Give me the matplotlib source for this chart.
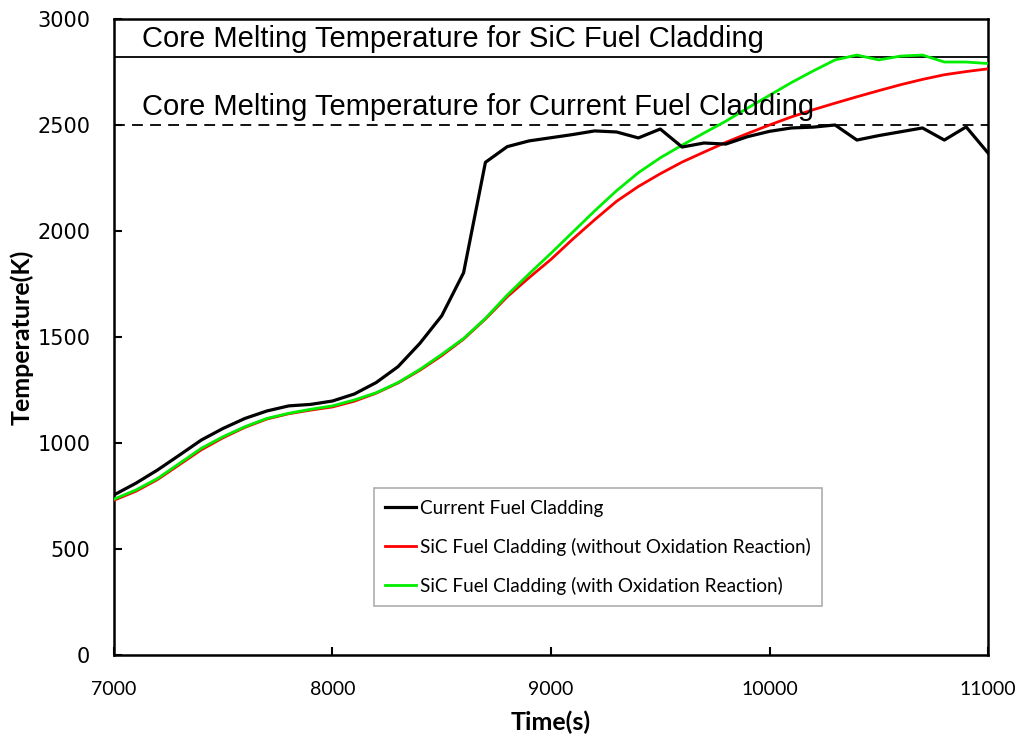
import numpy as np
import matplotlib
matplotlib.use("Agg")
import matplotlib.pyplot as plt

# Данные, шаг 100 с
time_s = list(range(7000, 11001, 100))

current_clad = [755, 810, 873, 943, 1014, 1069, 1116, 1151, 1175, 1182,
                1198, 1231, 1285, 1360, 1470, 1600, 1803, 2324, 2398, 2425,
                2440, 2455, 2472, 2467, 2439, 2481, 2396, 2415, 2410, 2445,
                2470, 2486, 2490, 2500, 2429, 2450, 2468, 2486, 2429, 2491,
                2368]

sic_no_ox = [730, 772, 828, 898, 968, 1025, 1074, 1113, 1138, 1155,
             1170, 1197, 1235, 1283, 1343, 1412, 1490, 1585, 1690, 1780,
             1866, 1962, 2053, 2140, 2210, 2270, 2325, 2372, 2418, 2460,
             2500, 2538, 2572, 2603, 2633, 2662, 2690, 2715, 2737, 2752,
             2765]

sic_ox = [735, 778, 833, 904, 975, 1030, 1077, 1116, 1140, 1159,
          1175, 1203, 1237, 1285, 1347, 1418, 1493, 1588, 1698, 1798,
          1895, 1995, 2095, 2190, 2275, 2345, 2405, 2462, 2518, 2580,
          2640, 2700, 2755, 2807, 2830, 2807, 2825, 2830, 2797, 2797,
          2790]

melt_sic = 2820
melt_current = 2500

fig = plt.figure(figsize=(10.23, 7.39), dpi=100)
ax = fig.add_axes([0.1114, 0.1137, 0.8544, 0.8606])

ax.plot(time_s, current_clad, color='black', lw=2.3, label='Current Fuel Cladding', zorder=4)
ax.plot(time_s, sic_no_ox, color='#ff0000', lw=2.0,
        label='SiC Fuel Cladding (without Oxidation Reaction)', zorder=3)
ax.plot(time_s, sic_ox, color='#00ee00', lw=2.0,
        label='SiC Fuel Cladding (with Oxidation Reaction)', zorder=3)

# Линии температуры плавления
ax.axhline(melt_sic, color='black', lw=1.3, zorder=2)
ax.axhline(melt_current, color='black', lw=1.3, ls=(0, (6, 4)), zorder=2)
ax.text(7130, melt_sic + 18, 'Core Melting Temperature for SiC Fuel Cladding',
        fontsize=21, family='Liberation Sans', va='bottom')
ax.text(7130, melt_current + 18, 'Core Melting Temperature for Current Fuel Cladding',
        fontsize=21, family='Liberation Sans', va='bottom')

ax.set_xlim(7000, 11000)
ax.set_ylim(0, 3000)
ax.set_xticks([7000, 8000, 9000, 10000, 11000])
ax.set_yticks([0, 500, 1000, 1500, 2000, 2500, 3000])

for s in ax.spines.values():
    s.set_linewidth(1.8)

ax.tick_params(direction='in', length=6, width=1.5, top=False, right=False)
ax.tick_params(axis='x', pad=19)
ax.tick_params(axis='y', pad=17)
for lbl in ax.get_xticklabels():
    lbl.set_family('Lato')
    lbl.set_fontsize(14)
for lbl in ax.get_yticklabels():
    lbl.set_family('DejaVu Sans')
    lbl.set_fontsize(15)

ax.set_xlabel('Time(s)', fontsize=18, fontweight='bold', family='Lato', labelpad=9)
ax.set_ylabel('Temperature(K)', fontsize=18, fontweight='bold', family='Lato', labelpad=3)

leg = ax.legend(loc='lower left', bbox_to_anchor=(0.2975, 0.077), borderaxespad=0,
                frameon=True, fancybox=False, edgecolor='#999999', handlelength=1.6,
                handletextpad=0.2, labelspacing=1.1, borderpad=0.6,
                prop={'family': 'Lato', 'size': 13.7})
leg.get_frame().set_linewidth(1.2)

fig.savefig('out.png', dpi=100)
